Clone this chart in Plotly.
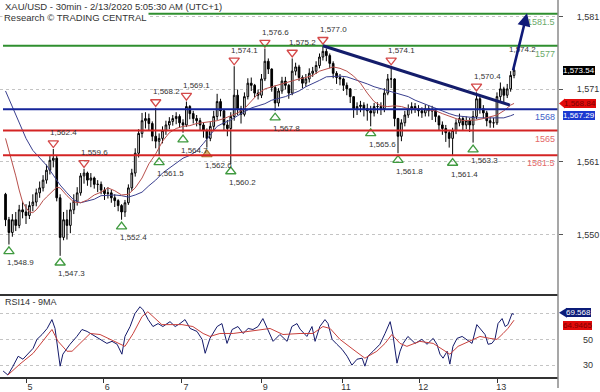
import plotly.graph_objects as go

TITLE = "XAU/USD - 30min - 2/13/2020 5:05:30 AM (UTC+1)"
SOURCE = "Research \u00a9 TRADING CENTRAL"
RSI_TITLE = "RSI14 - 9MA"

# ---------------- price data (30-min gold, one entry per drawn bar) ----------------
first_bar = -6
first_open = 1556.0
closes = [
    1552.4, 1550.6, 1552.4, 1551.6, 1553.8, 1553.5, 1553.0, 1554.4, 1554.9, 1556.2,
    1556.9, 1558.0, 1559.4, 1560.8, 1561.1, 1555.5, 1549.9, 1552.4, 1551.6, 1553.8,
    1555.0, 1556.2, 1558.6, 1559.0, 1558.0, 1558.3, 1557.4, 1557.4, 1556.6, 1556.1,
    1556.2, 1555.5, 1555.1, 1554.4, 1553.5, 1554.8, 1556.9, 1559.0, 1561.8, 1564.6,
    1566.4, 1566.7, 1566.0, 1564.2, 1563.5, 1563.9, 1565.0, 1565.8, 1566.3, 1566.7,
    1567.0, 1566.1, 1565.8, 1568.4, 1567.4, 1566.7, 1566.4, 1565.8, 1565.0, 1563.9,
    1565.6, 1567.0, 1569.1, 1567.8, 1565.8, 1565.3, 1567.0, 1570.0, 1568.1, 1567.3,
    1569.8, 1571.7, 1571.4, 1570.3, 1570.0, 1572.3, 1574.8, 1573.7, 1571.1, 1568.9,
    1570.6, 1572.0, 1571.4, 1570.3, 1573.4, 1574.0, 1572.5, 1571.7, 1572.3, 1573.1,
    1573.4, 1574.2, 1575.4, 1576.2, 1575.6, 1574.5, 1573.1, 1572.5, 1572.3, 1571.4,
    1570.9, 1569.8, 1568.1, 1568.4, 1568.6, 1568.1, 1567.8, 1567.5, 1568.4, 1568.4,
    1568.1, 1570.3, 1572.3, 1572.3, 1566.7, 1564.2, 1566.1, 1567.2, 1568.1, 1568.4,
    1568.1, 1567.8, 1567.5, 1568.1, 1567.8, 1567.8, 1567.0, 1565.8, 1565.3, 1564.7,
    1563.9, 1565.0, 1566.1, 1566.7, 1565.8, 1566.4, 1565.8, 1567.0, 1569.5, 1568.1,
    1567.5, 1566.4, 1566.1, 1566.1, 1569.8, 1570.9, 1570.0, 1570.9, 1572.8, 1573.54,
]
highs = [
    1556.2, 1552.8, 1553.2, 1553.5, 1554.5, 1555.0, 1554.6, 1555.0, 1556.0, 1556.8,
    1557.8, 1558.7, 1560.2, 1561.4, 1562.4, 1561.5, 1556.0, 1553.5, 1553.8, 1554.8,
    1556.0, 1557.0, 1559.0, 1559.6, 1559.2, 1559.0, 1558.5, 1558.0, 1557.8, 1557.0,
    1557.0, 1556.6, 1556.0, 1555.3, 1554.6, 1555.2, 1557.4, 1559.6, 1562.5, 1565.2,
    1567.5, 1567.6, 1567.4, 1566.3, 1568.2, 1564.6, 1565.6, 1566.4, 1566.9, 1567.2,
    1567.6, 1567.3, 1566.6, 1569.1, 1568.6, 1567.8, 1567.2, 1566.8, 1566.2, 1565.3,
    1566.2, 1567.8, 1570.2, 1569.5, 1568.0, 1566.5, 1567.6, 1574.1, 1570.8, 1568.5,
    1570.4, 1572.4, 1572.5, 1571.6, 1570.8, 1573.0, 1576.6, 1575.2, 1573.8, 1571.4,
    1571.0, 1572.6, 1572.6, 1571.6, 1575.2, 1574.6, 1574.3, 1572.8, 1573.0, 1573.8,
    1574.0, 1574.8, 1575.9, 1577.0, 1576.6, 1575.9, 1574.8, 1573.4, 1573.0, 1572.5,
    1571.8, 1571.0, 1569.8, 1569.0, 1569.2, 1569.0, 1568.8, 1568.5, 1568.9, 1569.0,
    1569.0, 1571.0, 1573.0, 1574.1, 1572.4, 1566.8, 1566.6, 1567.8, 1568.7, 1569.0,
    1568.9, 1568.6, 1568.3, 1568.7, 1568.6, 1568.5, 1568.2, 1567.2, 1566.3, 1565.8,
    1565.0, 1565.4, 1566.6, 1567.4, 1567.0, 1567.0, 1566.8, 1567.8, 1570.4, 1569.8,
    1568.6, 1567.8, 1566.9, 1566.8, 1570.4, 1571.8, 1571.2, 1571.6, 1573.4, 1574.2,
]
lows = [
    1551.5, 1548.9, 1550.0, 1550.8, 1551.2, 1552.6, 1551.8, 1552.5, 1553.6, 1554.3,
    1555.5, 1556.4, 1557.5, 1558.8, 1559.8, 1555.0, 1547.3, 1549.5, 1549.6, 1550.5,
    1553.2, 1554.4, 1555.8, 1557.5, 1557.2, 1557.0, 1556.8, 1556.3, 1556.0, 1555.2,
    1555.4, 1554.8, 1554.2, 1553.6, 1552.4, 1552.8, 1554.5, 1556.5, 1558.5, 1561.2,
    1564.0, 1565.3, 1565.0, 1563.5, 1562.5, 1561.5, 1563.2, 1564.4, 1565.2, 1565.7,
    1565.9, 1565.4, 1564.7, 1565.5, 1566.6, 1566.0, 1565.6, 1565.0, 1564.0, 1562.6,
    1563.5, 1565.0, 1566.5, 1567.0, 1565.0, 1564.2, 1560.2, 1566.4, 1567.2, 1566.0,
    1567.0, 1569.4, 1570.6, 1569.7, 1569.4, 1569.6, 1572.0, 1573.0, 1570.5, 1567.8,
    1568.4, 1570.2, 1570.8, 1569.5, 1570.0, 1572.8, 1572.0, 1571.0, 1571.2, 1571.8,
    1572.6, 1573.0, 1573.8, 1574.9, 1574.8, 1573.8, 1572.4, 1571.6, 1571.4, 1570.6,
    1570.0, 1568.9, 1566.8, 1567.2, 1567.6, 1567.0, 1566.4, 1565.6, 1567.0, 1567.4,
    1567.2, 1567.6, 1570.0, 1571.0, 1565.6, 1561.8, 1563.5, 1565.6, 1566.8, 1567.4,
    1567.5, 1567.0, 1566.8, 1567.0, 1567.0, 1566.5, 1566.2, 1565.0, 1564.4, 1563.4,
    1562.6, 1561.4, 1564.5, 1565.6, 1565.0, 1565.2, 1564.8, 1563.3, 1566.6, 1567.4,
    1566.7, 1565.6, 1565.4, 1565.4, 1565.8, 1569.2, 1569.0, 1569.6, 1570.5, 1572.4,
]
bars = list(range(first_bar, first_bar + len(closes)))
opens = [first_open] + closes[:-1]

# moving averages on price (bar, value)
ma_fast_bar = [-6, -5, -4, -3, -2, -1, 0, 1, 2, 3, 4, 5, 6, 7, 8, 9, 10, 12, 14, 16, 18, 20,
               22, 24, 26, 28, 30, 32, 34, 36, 38, 40, 42, 44, 46, 48, 50, 52, 54, 56, 58, 60,
               62, 64, 66, 68, 70, 72, 74, 76, 78, 80, 82, 84, 86, 88, 90, 92, 94, 96, 98, 100,
               102, 104, 106, 108, 110, 112, 114, 116, 118, 120, 122, 124, 126, 128, 130, 132,
               134, 136, 138, 140, 142, 143]
ma_fast = [1563.9, 1562.2, 1560.4, 1558.6, 1556.6, 1554.9, 1554.1, 1553.5, 1553.4, 1553.8,
           1554.4, 1555.1, 1555.6, 1556.1, 1556.6, 1557.0, 1556.9, 1555.8, 1554.9, 1554.8,
           1555.2, 1555.9, 1556.3, 1556.9, 1556.5, 1555.9, 1556.0, 1556.9, 1558.3, 1560.3,
           1561.7, 1563.5, 1564.7, 1565.3, 1565.6, 1565.7, 1566.0, 1566.1, 1566.3, 1566.4,
           1566.7, 1567.1, 1567.5, 1568.1, 1569.1, 1570.2, 1570.9, 1571.2, 1571.4, 1571.7,
           1572.0, 1572.3, 1572.5, 1572.8, 1573.4, 1573.7, 1574.0, 1573.8, 1573.4, 1572.7,
           1571.7, 1570.3, 1569.1, 1568.5, 1568.4, 1568.5, 1568.4, 1568.1, 1568.1, 1568.1,
           1567.9, 1567.8, 1567.4, 1567.0, 1566.7, 1566.4, 1566.4, 1566.5, 1566.7, 1567.0,
           1567.2, 1567.8, 1568.6, 1568.84]
ma_slow_bar = [-6, -4, -2, 0, 2, 4, 6, 8, 10, 12, 14, 16, 18, 20, 22, 24, 26, 28, 30, 32, 34,
               36, 38, 40, 42, 44, 46, 48, 50, 52, 54, 56, 58, 60, 62, 64, 66, 68, 70, 72, 74,
               76, 78, 80, 82, 84, 86, 88, 90, 92, 94, 96, 98, 100, 102, 104, 106, 108, 110,
               112, 114, 116, 118, 120, 122, 124, 126, 128, 130, 132, 134, 136, 138, 140, 142,
               143]
ma_slow = [1570.6, 1568.3, 1566.1, 1563.9, 1562.2, 1561.1, 1560.1, 1558.7, 1557.3, 1556.2,
           1555.2, 1554.8, 1555.1, 1555.3, 1555.8, 1555.9, 1555.9, 1555.8, 1555.6, 1555.9,
           1556.3, 1557.2, 1558.0, 1559.0, 1559.7, 1560.5, 1561.1, 1561.5, 1562.1, 1563.2,
           1564.4, 1565.6, 1566.1, 1566.5, 1567.1, 1567.7, 1568.2, 1568.5, 1568.8, 1569.3,
           1569.5, 1569.8, 1570.2, 1570.6, 1571.2, 1571.6, 1572.1, 1572.6, 1572.7, 1572.7,
           1572.6, 1572.3, 1572.0, 1571.6, 1571.2, 1570.9, 1570.6, 1570.3, 1570.0, 1569.8,
           1569.3, 1568.9, 1568.5, 1568.1, 1567.7, 1567.4, 1567.1, 1567.0, 1566.8, 1566.8,
           1566.8, 1566.8, 1566.7, 1566.8, 1567.1, 1567.29]

# RSI(14) and its 9-period MA (bar, value)
rsi_bar = [-6.7, -5.3, -3.8, -2.3, -0.9, 0.6, 2.1, 3.2, 4.7, 6.2, 7.6, 8.5, 9.4, 10.0, 10.8,
           12.0, 12.9, 14.9, 16.4, 17.9, 19.3, 21.7, 23.7, 25.2, 26.7, 28.1, 29.0, 30.5, 31.9,
           33.4, 34.3, 35.8, 37.2, 38.7, 40.1, 42.2, 43.7, 45.1, 46.6, 48.1, 50.1, 51.6, 52.5,
           53.9, 56.0, 57.4, 58.9, 60.4, 62.1, 63.6, 65.1, 66.5, 68.0, 69.4, 70.9, 72.4, 74.4,
           76.5, 77.9, 79.4, 80.3, 82.3, 83.8, 84.7, 86.1, 87.6, 88.5, 89.7, 91.1, 92.6, 94.1,
           95.5, 97.0, 98.5, 99.3, 100.2, 101.7, 103.7, 105.2, 106.7, 107.5, 108.7, 109.6,
           110.5, 111.9, 114.0, 116.0, 117.5, 119.3, 120.4, 121.3, 122.2, 123.4, 124.2, 125.1,
           126.3, 127.8, 129.2, 130.7, 132.1, 133.6, 134.5, 135.4, 136.5, 137.4, 138.3, 139.5,
           140.4, 141.2, 142.4, 143.0]
rsi = [25.4, 22.3, 29.2, 36.9, 34.6, 38.5, 43.1, 50.0, 53.8, 58.5, 65.4, 58.5, 42.3, 29.2, 38.5,
       43.1, 46.2, 52.3, 57.7, 56.2, 53.8, 50.0, 46.9, 48.5, 46.2, 38.5, 52.3, 60.0, 70.0,
       75.4, 73.0, 65.4, 60.0, 62.3, 60.0, 63.8, 60.0, 62.3, 65.4, 58.5, 56.2, 50.0, 39.2,
       50.8, 60.0, 62.3, 46.9, 57.7, 60.0, 54.6, 58.5, 57.7, 60.0, 66.2, 57.7, 48.5, 53.8,
       48.5, 60.0, 62.3, 58.0, 52.3, 60.0, 48.5, 60.0, 65.4, 62.3, 50.0, 46.2, 42.3, 36.9,
       30.0, 34.6, 35.4, 29.2, 36.9, 40.8, 46.2, 54.6, 63.8, 53.8, 31.5, 40.8,
       46.9, 52.3, 46.9, 50.0, 46.2, 50.8, 46.2, 38.5, 35.4, 40.8, 30.8, 44.6,
       50.8, 52.3, 50.0, 46.9, 61.5, 56.2, 53.8, 46.2, 46.9, 50.0, 62.3, 66.2,
       60.0, 61.5, 70.0, 69.568]
rsi_ma_bar = [-5.3, -1.8, 2.1, 5.0, 7.6, 9.4, 12.0, 13.5, 15.8, 18.8, 21.7, 24.6, 27.5, 29.0,
              31.4, 34.0, 35.7, 37.8, 39.8, 42.2, 45.7, 48.9, 51.9, 53.9, 56.8, 60.7, 64.8,
              68.6, 71.5, 75.3, 78.2, 80.3, 84.1, 87.0, 89.1, 92.0, 95.8, 99.3, 102.8, 105.2,
              107.2, 109.6, 111.6, 115.4, 119.3, 122.2, 124.2, 126.6, 130.1, 133.0, 135.9,
              138.0, 139.8, 141.2, 143.0]
rsi_ma = [22.3, 30.8, 39.2, 48.5, 57.7, 48.5, 40.8, 40.8, 46.9, 54.6, 53.8, 50.0, 46.2, 44.6,
          54.6, 67.7, 71.5, 66.2, 61.5, 61.5, 61.5, 60.0, 54.6, 52.3, 54.6, 54.6, 56.2,
          57.7, 58.5, 53.8, 54.6, 54.6, 54.6, 60.0, 58.5, 50.0, 42.3, 35.4, 40.8, 46.9,
          53.8, 46.9, 44.6, 48.5, 46.9, 42.3, 38.5, 44.6, 48.5, 52.3, 50.8,
          50.0, 54.6, 58.5, 64.9465]

# axis labels
day_tick_bar = [0, 22.6, 45.7, 68.9, 92.6, 115.2, 138.1]
day_labels = ["5", "6", "7", "9", "11", "12", "13"]
price_ticks = [1550.31, 1560.59, 1570.87, 1581.08]
rsi_ticks = [30, 50, 70]
rsi_tick_labels = ["30", "50", ""]   # the 70 label sits under the value boxes

# key levels
levels = [1581.5, 1577.0, 1568.0, 1565.0, 1561.5]
level_labels = ["1581.5", "1577", "1568", "1565", "1561.5"]
level_colors = ["#2f8f2f", "#2f8f2f", "#15249a", "#d42424", "#d42424"]
level_text_colors = ["#6aaa6a", "#6aaa6a", "#3f5fc8", "#e46a6a", "#e46a6a"]

# swing highs / lows annotated on the chart
peak_bar = [8, 17, 38, 47, 61, 70, 78, 87, 107, 132]
peak_val = [1562.4, 1559.6, 1568.2, 1569.1, 1574.1, 1576.6, 1575.2, 1577.0, 1574.1, 1570.4]
trough_bar = [-5, 10, 28, 39, 46, 53, 60, 73, 101, 109, 125, 131]
trough_val = [1548.9, 1547.3, 1552.4, 1561.5, 1564.7, 1562.6, 1560.2, 1567.8, 1565.6,
              1561.8, 1561.4, 1563.3]
trough_kind = ["g", "g", "g", "g", "g", "o", "g", "g", "g", "g", "g", "g"]
last_high_bar = 143
last_high_val = 1574.2

# trendline & target arrow
trend_bar = [87, 141.8]
trend_val = [1577.0, 1568.6]
arrow_from = (142.6, 1573.3)
arrow_to = (146.8, 1581.6)

last_price = 1573.54
ma_fast_last = 1568.84
ma_slow_last = 1567.29
rsi_last = 69.568
rsi_ma_last = 64.9465

# ---------------- layout constants ----------------
W, H = 600, 392
ML, MR, MT, MB = 0, 42, 0, 11
PLOT_W = W - ML - MR
PLOT_H = H - MT - MB
SPLIT = 82 / PLOT_H
X_RANGE = [-7.62, 155.88]
PRICE_RANGE = [1541.64, 1583.46]
RSI_RANGE = [20.77, 83.85]
PX_PER_UNIT = (PLOT_H * (1 - SPLIT)) / (PRICE_RANGE[1] - PRICE_RANGE[0])
FONT = "Liberation Sans, Arial, sans-serif"


def px_x(p):
    return p / PLOT_W


def px_y(p):
    return 1 - p / PLOT_H


def price_paper(v):
    return SPLIT + (v - PRICE_RANGE[0]) / (PRICE_RANGE[1] - PRICE_RANGE[0]) * (1 - SPLIT)


def rsi_paper(v):
    return (v - RSI_RANGE[0]) / (RSI_RANGE[1] - RSI_RANGE[0]) * SPLIT


fig = go.Figure()

fig.add_trace(go.Candlestick(
    x=bars, open=opens, high=highs, low=lows, close=closes,
    increasing=dict(line=dict(color="black", width=1), fillcolor="white"),
    decreasing=dict(line=dict(color="black", width=1), fillcolor="black"),
    whiskerwidth=0, showlegend=False, hoverinfo="skip", xaxis="x", yaxis="y"))

fig.add_trace(go.Scatter(x=ma_slow_bar, y=ma_slow, mode="lines",
                         line=dict(color="#3a3f8f", width=1), showlegend=False,
                         hoverinfo="skip", xaxis="x", yaxis="y"))
fig.add_trace(go.Scatter(x=ma_fast_bar, y=ma_fast, mode="lines",
                         line=dict(color="#b8504c", width=1), showlegend=False,
                         hoverinfo="skip", xaxis="x", yaxis="y"))

# swing markers
fig.add_trace(go.Scatter(
    x=peak_bar, y=[v + 6 / PX_PER_UNIT for v in peak_val], mode="markers",
    marker=dict(symbol="triangle-down-open", size=9, color="#d44848", line=dict(width=1.3)),
    showlegend=False, hoverinfo="skip", cliponaxis=False, xaxis="x", yaxis="y"))
g_b = [b for b, k in zip(trough_bar, trough_kind) if k == "g"]
g_v = [v for v, k in zip(trough_val, trough_kind) if k == "g"]
o_b = [b for b, k in zip(trough_bar, trough_kind) if k == "o"]
o_v = [v for v, k in zip(trough_val, trough_kind) if k == "o"]
fig.add_trace(go.Scatter(
    x=g_b, y=[v - 7 / PX_PER_UNIT for v in g_v], mode="markers",
    marker=dict(symbol="triangle-up-open", size=9, color="#3f9a3f", line=dict(width=1.3)),
    showlegend=False, hoverinfo="skip", cliponaxis=False, xaxis="x", yaxis="y"))
fig.add_trace(go.Scatter(
    x=o_b, y=[v - 7 / PX_PER_UNIT for v in o_v], mode="markers",
    marker=dict(symbol="triangle-up", size=9, color="#d8b070",
                line=dict(width=1.2, color="#a8752e")),
    showlegend=False, hoverinfo="skip", cliponaxis=False, xaxis="x", yaxis="y"))

# RSI panel
fig.add_trace(go.Scatter(x=rsi_bar, y=rsi, mode="lines", line=dict(color="#141a6a", width=1),
                         showlegend=False, hoverinfo="skip", xaxis="x2", yaxis="y2"))
fig.add_trace(go.Scatter(x=rsi_ma_bar, y=rsi_ma, mode="lines",
                         line=dict(color="#c8403c", width=1),
                         showlegend=False, hoverinfo="skip", xaxis="x2", yaxis="y2"))

shapes = []
annotations = []

for lv, col in zip(levels, level_colors):
    shapes.append(dict(type="line", xref="paper", yref="y", x0=px_x(3), x1=1, y0=lv, y1=lv,
                       line=dict(color=col, width=2), layer="above"))
for lv, lab, tc in zip(levels, level_labels, level_text_colors):
    annotations.append(dict(xref="paper", yref="y", x=px_x(557), y=lv, text=lab,
                            showarrow=False, xanchor="right", yanchor="top", yshift=-1,
                            font=dict(family=FONT, size=9, color=tc)))

# trendline
shapes.append(dict(type="line", xref="x", yref="y", x0=trend_bar[0], y0=trend_val[0],
                   x1=trend_bar[1], y1=trend_val[1], line=dict(color="#141d6b", width=3),
                   layer="above"))

# right separator
shapes.append(dict(type="line", xref="paper", yref="paper", x0=1, x1=1, y0=-MB / PLOT_H, y1=1,
                   line=dict(color="#8a8a8a", width=1.5)))

# swing labels
lab_font = dict(family=FONT, size=8, color="#333333")
for b, v in zip(peak_bar, peak_val):
    annotations.append(dict(x=b, y=v, xref="x", yref="y", text=f"{v:,.1f}", showarrow=False,
                            xanchor="left", yanchor="middle", xshift=-5, yshift=16,
                            font=lab_font))
for b, v in zip(trough_bar, trough_val):
    annotations.append(dict(x=b, y=v, xref="x", yref="y", text=f"{v:,.1f}", showarrow=False,
                            xanchor="left", yanchor="middle", xshift=-4, yshift=-18,
                            font=lab_font))
annotations.append(dict(x=last_high_bar, y=last_high_val, xref="x", yref="y",
                        text=f"{last_high_val:,.1f}", showarrow=False, xanchor="left",
                        yanchor="middle", xshift=-7, yshift=16, font=lab_font))

# target arrow
annotations.append(dict(x=arrow_to[0], y=arrow_to[1], ax=arrow_from[0], ay=arrow_from[1],
                        xref="x", yref="y", axref="x", ayref="y", text="", showarrow=True,
                        arrowhead=2, arrowsize=1.0, arrowwidth=2.6, arrowcolor="#101a78"))

# titles
annotations.append(dict(xref="paper", yref="paper", x=px_x(3), y=px_y(7), text=TITLE,
                        showarrow=False, xanchor="left", yanchor="middle",
                        font=dict(family=FONT, size=9.5, color="#333333")))
annotations.append(dict(xref="paper", yref="paper", x=px_x(2), y=px_y(18), text=SOURCE,
                        showarrow=False, xanchor="left", yanchor="middle", bgcolor="white",
                        font=dict(family=FONT, size=9.5, color="#333333")))
annotations.append(dict(xref="paper", yref="paper", x=px_x(3), y=px_y(305), text=RSI_TITLE,
                        showarrow=False, xanchor="left", yanchor="middle",
                        font=dict(family=FONT, size=9, color="#333333")))

# value boxes on the right
box_font = 8


def value_box(val, yref, text, bg, fg, left_px, pointer=False, shift=0):
    annotations.append(dict(xref="paper", yref=yref, x=px_x(left_px), y=val, text=text,
                            showarrow=False, xanchor="left", yanchor="middle", bgcolor=bg,
                            borderpad=0, borderwidth=0, yshift=shift,
                            font=dict(family=FONT, size=box_font, color=fg)))
    if pointer:
        py = (price_paper(val) if yref == "y" else rsi_paper(val)) + shift / PLOT_H
        h = 5 / PLOT_H
        shapes.append(dict(type="path", xref="paper", yref="paper",
                           path=f"M {px_x(559)},{py} L {px_x(left_px + 1)},{py + h} "
                                f"L {px_x(left_px + 1)},{py - h} Z",
                           fillcolor=bg, line=dict(width=0)))


value_box(last_price, "y", f"{last_price:,.2f}", "#000000", "#ffffff", 563)
value_box(ma_fast_last, "y", f"{ma_fast_last:,.2f}", "#e20a0a", "#7a0000", 564, pointer=True)
value_box(ma_slow_last, "y", f"{ma_slow_last:,.2f}", "#1c3ad0", "#ffffff", 563, shift=-1)
# the two RSI read-outs are stacked so that they do not cover each other
value_box(rsi_last, "y2", f"{rsi_last}", "#0c1c78", "#ffffff", 566, pointer=True, shift=1.5)
value_box(rsi_ma_last, "y2", f"{rsi_ma_last}", "#e20a0a", "#7a0000", 563, shift=-5)

tick_font = dict(family=FONT, size=9, color="#333333")

fig.update_layout(
    width=W, height=H, margin=dict(l=ML, r=MR, t=MT, b=MB),
    paper_bgcolor="white", plot_bgcolor="white", showlegend=False,
    xaxis=dict(domain=[0, 1], range=X_RANGE, anchor="y", showticklabels=False,
               showgrid=False, zeroline=False, rangeslider=dict(visible=False),
               fixedrange=True),
    xaxis2=dict(domain=[0, 1], range=X_RANGE, anchor="y2", matches="x",
                tickmode="array", tickvals=day_tick_bar, ticktext=day_labels,
                ticks="outside", ticklen=4, tickcolor="#333333", tickfont=tick_font,
                ticklabelshift=4, ticklabelstandoff=-3,
                showgrid=False, zeroline=False, showline=True, mirror=True,
                linecolor="#333333", linewidth=1.5, fixedrange=True),
    yaxis=dict(domain=[SPLIT, 1], range=PRICE_RANGE, side="right", anchor="x",
               tickmode="array", tickvals=price_ticks, tickformat=",.0f",
               ticks="outside", ticklen=4, tickcolor="#555555", tickfont=tick_font,
               ticklabelstandoff=12,
               showgrid=True, gridcolor="#c4c4c4", griddash="dot", gridwidth=1,
               zeroline=False, showline=False, fixedrange=True),
    yaxis2=dict(domain=[0, SPLIT], range=RSI_RANGE, side="right", anchor="x2",
                tickmode="array", tickvals=rsi_ticks, ticktext=rsi_tick_labels,
                ticks="", tickfont=tick_font, ticklabelstandoff=24,
                showgrid=True, gridcolor="#c4c4c4", griddash="dot", gridwidth=1,
                zeroline=False, showline=False, fixedrange=True),
    shapes=shapes, annotations=annotations,
)

fig.write_html("out.html", config={"displayModeBar": False, "staticPlot": True},
               post_script="document.body.style.margin='0';document.body.style.overflow='hidden';")
